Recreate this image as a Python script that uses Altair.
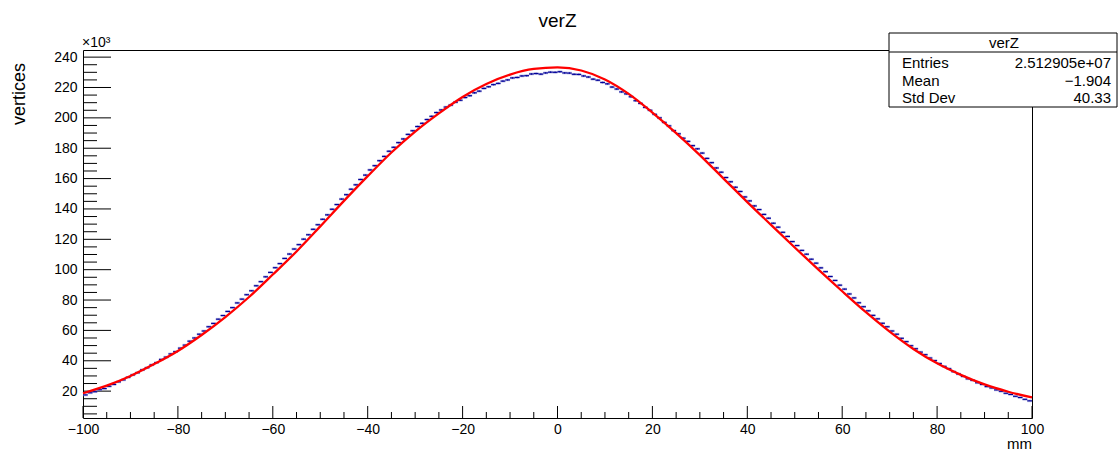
import altair as alt
import pandas as pd
import numpy as np

# ---- data (y in units of 10^3) ----
bin_low = list(range(-100, 100))  # 200 bins of 1 mm
counts_k = [
    17.5, 18.9, 19.6, 20.9, 21.7, 23.2, 24.4, 26.1, 27.4, 29.1,
    30.7, 32.1, 34.0, 35.4, 37.3, 38.8, 40.9, 42.4, 44.5, 46.0,
    48.3, 50.3, 52.9, 55.0, 57.5, 59.6, 62.4, 64.6, 67.4, 69.8,
    72.5, 75.0, 78.1, 80.6, 83.5, 86.1, 89.4, 92.1, 95.3, 98.2,
    101.3, 104.0, 107.4, 110.3, 113.6, 116.5, 120.1, 123.0, 126.6, 129.6,
    133.2, 136.1, 139.8, 142.9, 146.5, 149.4, 153.0, 155.9, 159.4, 162.3,
    165.7, 168.5, 171.8, 174.6, 178.0, 180.6, 183.7, 186.1, 189.1, 191.5,
    194.3, 196.4, 198.9, 201.0, 203.5, 205.2, 207.1, 208.4, 210.3, 211.6,
    213.4, 214.6, 216.5, 217.6, 219.4, 220.5, 221.9, 222.7, 224.2, 225.0,
    226.3, 226.6, 227.6, 227.8, 228.9, 229.2, 228.8, 229.6, 230.1, 230.0,
    230.4, 229.6, 229.5, 228.7, 228.6, 227.6, 226.9, 225.5, 224.8, 223.3,
    222.4, 220.3, 219.0, 217.1, 215.8, 213.9, 211.3, 209.5, 206.9, 205.0,
    202.3, 200.0, 197.0, 194.7, 191.6, 189.5, 186.6, 184.5, 181.7, 179.6,
    176.8, 173.3, 170.5, 167.0, 164.2, 160.7, 157.9, 154.3, 151.5, 147.9,
    145.3, 142.0, 139.6, 136.4, 133.9, 130.6, 128.0, 124.6, 121.9, 118.5,
    115.9, 112.7, 110.2, 106.9, 104.3, 101.2, 98.7, 95.5, 92.9, 89.8,
    87.2, 84.0, 81.4, 78.2, 75.6, 72.9, 69.9, 67.6, 64.7, 62.4,
    59.6, 57.5, 54.8, 52.6, 49.9, 47.9, 45.7, 44.0, 41.8, 40.1,
    38.2, 36.3, 34.8, 32.8, 31.3, 29.7, 28.1, 27.1, 25.5, 24.4,
    23.0, 22.1, 20.8, 19.9, 18.6, 17.8, 16.6, 15.8, 14.6, 13.6,
]

fit_x = [-100, -95, -90, -85, -80, -75, -70, -65, -60, -55, -50, -45, -40, -35,
         -30, -25, -20, -15, -10, -5, 0, 5, 10, 15, 20, 25, 30, 35, 40, 45, 50,
         55, 60, 65, 70, 75, 80, 85, 90, 95, 100]
fit_k = [18.6, 23.6, 30.0, 37.8, 46.5, 57.0, 68.8, 82.0, 96.8, 112.0, 128.5,
         145.3, 161.6, 177.2, 191.0, 203.0, 213.8, 222.3, 228.5, 232.2, 233.2,
         231.2, 225.3, 215.8, 203.5, 190.0, 175.5, 160.0, 144.5, 129.5, 114.6,
         100.0, 85.8, 72.0, 59.2, 47.8, 38.3, 30.7, 24.4, 19.6, 15.8]

x_major = [-100, -80, -60, -40, -20, 0, 20, 40, 60, 80, 100]
x_minor = [v for v in range(-95, 100, 5) if v % 20 != 0]
y_major = [20, 40, 60, 80, 100, 120, 140, 160, 180, 200, 220, 240]
y_minor = [v for v in range(5, 245, 5) if v % 20 != 0]

stats_title = "verZ"
stats_labels = ["Entries", "Mean", "Std Dev"]
stats_values = ["2.512905e+07", "\u22121.904", "40.33"]

# ---- layout ----
W, H = 949, 368
FONT = "Liberation Sans"

xs = alt.Scale(domain=[-100, 100], nice=False, zero=False)
ys = alt.Scale(domain=[2.3, 244.7], nice=False, zero=False)
xaxis = alt.Axis(values=x_major, ticks=False, domain=False, grid=False,
                 labelFontSize=14, labelFont=FONT, labelColor="black",
                 labelPadding=4, labelFlush=False, labelOverlap=False, title=None)
yaxis = alt.Axis(values=y_major, ticks=False, domain=False, grid=False,
                 labelFontSize=14, labelFont=FONT, labelColor="black",
                 labelPadding=6, labelOverlap=False, title=None)

hist = pd.DataFrame({"lo": bin_low, "v": counts_k})
hist["hi"] = hist["lo"] + 1
hist["c"] = hist["lo"] + 0.5
err = np.sqrt(hist["v"] * 1000.0) / 1000.0
hist["e1"] = hist["v"] - err
hist["e2"] = hist["v"] + err

fit = pd.DataFrame({"x": fit_x, "v": fit_k})

halo = alt.Chart(hist).mark_rule(color="#9a9ad6", strokeWidth=2.6, opacity=0.7).encode(
    x=alt.X("lo:Q", scale=xs, axis=xaxis), x2="hi:Q",
    y=alt.Y("v:Q", scale=ys, axis=yaxis))
dash = alt.Chart(hist).mark_rule(color="#000099", strokeWidth=1.1).encode(
    x=alt.X("lo:Q", scale=xs, axis=xaxis), x2="hi:Q",
    y=alt.Y("v:Q", scale=ys, axis=yaxis))
errs = alt.Chart(hist).mark_rule(color="#000099", strokeWidth=1).encode(
    x=alt.X("c:Q", scale=xs, axis=xaxis),
    y=alt.Y("e1:Q", scale=ys, axis=yaxis), y2="e2:Q")

curve = alt.Chart(fit).mark_line(color="#ff0000", strokeWidth=2.3,
                                 interpolate="monotone").encode(
    x=alt.X("x:Q", scale=xs, axis=xaxis),
    y=alt.Y("v:Q", scale=ys, axis=yaxis))

xt_major = alt.Chart(pd.DataFrame({"t": x_major})).mark_rule(color="black").encode(
    x=alt.X("t:Q", scale=xs, axis=xaxis), y=alt.value(H), y2=alt.value(H - 12))
xt_minor = alt.Chart(pd.DataFrame({"t": x_minor})).mark_rule(color="black").encode(
    x=alt.X("t:Q", scale=xs, axis=xaxis), y=alt.value(H), y2=alt.value(H - 6))
yt_major = alt.Chart(pd.DataFrame({"t": y_major})).mark_rule(color="black").encode(
    y=alt.Y("t:Q", scale=ys, axis=yaxis), x=alt.value(0), x2=alt.value(28))
yt_minor = alt.Chart(pd.DataFrame({"t": y_minor})).mark_rule(color="black").encode(
    y=alt.Y("t:Q", scale=ys, axis=yaxis), x=alt.value(0), x2=alt.value(14))

one = pd.DataFrame({"a": [0]})


def label(text, x, y, size, align="left", angle=0):
    return alt.Chart(pd.DataFrame({"s": [text]})).mark_text(
        font=FONT, fontSize=size, align=align, baseline="alphabetic",
        color="black", angle=angle).encode(
        text="s:N", x=alt.value(x), y=alt.value(y))


title = label("verZ", W / 2, -23, 19, align="center")
ytitle = label("vertices", -58, 13, 18, align="right", angle=270)
xtitle = label("mm", W, H + 31, 15, align="right")
mult = label("\u00d710\u00b3", -1, -3, 14)

# stats box
box = alt.Chart(one).mark_rect(fill="white", stroke="black", strokeWidth=1).encode(
    x=alt.value(806), x2=alt.value(1034), y=alt.value(-17), y2=alt.value(57))
box_line = alt.Chart(one).mark_rule(color="black", strokeWidth=1).encode(
    x=alt.value(806), x2=alt.value(1034), y=alt.value(2))
box_head = label(stats_title, 921, -2, 15, align="center")
row_y = [18, 35.5, 53]
box_texts = []
for lab, val, yy in zip(stats_labels, stats_values, row_y):
    box_texts.append(label(lab, 819, yy, 15, align="left"))
    box_texts.append(label(val, 1028, yy, 15, align="right"))

chart = alt.layer(
    xt_major, xt_minor, yt_major, yt_minor,
    halo, dash, errs, curve,
    title, ytitle, xtitle, mult,
    box, box_line, box_head, *box_texts,
).properties(
    width=W, height=H, autosize="none",
    padding={"left": 83, "top": 50, "right": 88, "bottom": 34},
    background="white",
).configure_view(stroke="black", strokeWidth=1)

chart.save("out.html", embed_options={"renderer": "svg", "actions": False})
